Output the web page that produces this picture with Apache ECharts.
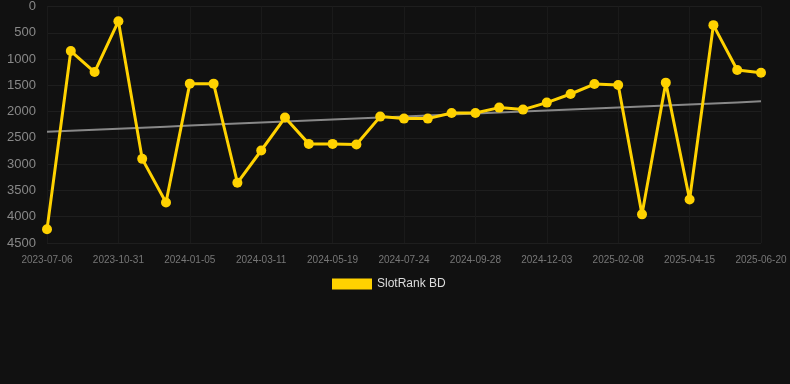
<!DOCTYPE html>
<html>
<head>
<meta charset="utf-8">
<script src="https://cdn.jsdelivr.net/npm/echarts@6/dist/echarts.min.js"></script>
<style>
html,body{margin:0;padding:0;background:#111111;}
#c{width:790px;height:384px;}
</style>
</head>
<body>
<div id="c"></div>
<script>
const categories = ['2023-07-06','2023-08-14','2023-09-22','2023-10-31','2023-11-22','2023-12-14','2024-01-05','2024-01-27','2024-02-18','2024-03-11','2024-04-03','2024-04-26','2024-05-19','2024-06-10','2024-07-02','2024-07-24','2024-08-15','2024-09-06','2024-09-28','2024-10-20','2024-11-11','2024-12-03','2024-12-25','2025-01-17','2025-02-08','2025-03-02','2025-03-24','2025-04-15','2025-05-07','2025-05-29','2025-06-20'];
const rankValues = [4240,848,1247,279,2899,3728,1468,1468,3354,2740,2113,2614,2614,2627,2095,2133,2133,2025,2025,1924,1962,1829,1665,1475,1494,3955,1449,3671,355,1209,1259];
const yTicks = [0,500,1000,1500,2000,2500,3000,3500,4000,4500];

// linear regression trend over the series
const n = rankValues.length;
let sx=0, sy=0, sxy=0, sxx=0;
rankValues.forEach((v,i)=>{sx+=i;sy+=v;sxy+=i*v;sxx+=i*i;});
const slope = (n*sxy - sx*sy)/(n*sxx - sx*sx);
const icpt = (sy - slope*sx)/n;
const trendValues = rankValues.map((v,i)=>icpt + slope*i);

const chart = echarts.init(document.getElementById('c'));
chart.setOption({
  backgroundColor:'#111111',
  animation:false,
  grid:{left:47,right:29,top:6,bottom:141},
  legend:{
    data:[{name:'SlotRank BD',icon:'rect'}],
    top:278, left:332,
    itemWidth:40, itemHeight:11, itemGap:10,
    padding:0,
    textStyle:{color:'#dddddd',fontSize:12,fontFamily:'Arial, Liberation Sans, sans-serif'}
  },
  xAxis:{
    type:'category',
    data:categories,
    boundaryGap:false,
    axisLine:{show:false},
    axisTick:{show:false},
    axisLabel:{interval:2,color:'#777777',fontSize:10,margin:12,fontFamily:'Arial, Liberation Sans, sans-serif'},
    splitLine:{show:true,interval:2,lineStyle:{color:'#1a1a1a',width:1}}
  },
  yAxis:{
    type:'value',
    inverse:true,
    min:yTicks[0], max:yTicks[yTicks.length-1], interval:500,
    axisLine:{show:false},
    axisTick:{show:false},
    axisLabel:{color:'#888888',fontSize:13,margin:11,fontFamily:'Arial, Liberation Sans, sans-serif',formatter:function(v){return String(v);}},
    splitLine:{show:true,lineStyle:{color:'#1e1e1e',width:1}}
  },
  series:[
    {
      name:'Trend',
      type:'line',
      data:trendValues,
      symbol:'none',
      silent:true,
      lineStyle:{color:'#888888',width:2},
      z:1
    },
    {
      name:'SlotRank BD',
      type:'line',
      data:rankValues,
      symbol:'circle',
      symbolSize:10,
      itemStyle:{color:'#FFD200'},
      lineStyle:{color:'#FFD200',width:3},
      z:2
    }
  ]
});
</script>
</body>
</html>
